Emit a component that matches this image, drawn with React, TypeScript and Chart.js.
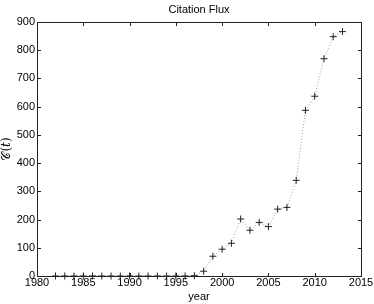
import React, { useEffect, useRef } from "react";
import { Chart, registerables } from "chart.js";

Chart.register(...registerables);

const years = [1982,1983,1984,1985,1986,1987,1988,1989,1990,1991,1992,1993,1994,1995,1996,1997,1998,1999,2000,2001,2002,2003,2004,2005,2006,2007,2008,2009,2010,2011,2012,2013];
const citations = [0,0,0,0,0,0,0,0,0,0,0,0,0,0,0,1,17,70,95,116,202,162,190,175,237,243,339,587,637,770,848,866];
const xTicks = [1980,1985,1990,1995,2000,2005,2010,2015];
const yTicks = [0,100,200,300,400,500,600,700,800,900];
const titleText = "Citation Flux";
const xLabel = "year";
const yLabel = "𝒞(𝑡)";

const boxPlugin = {
  id: "boxTicks",
  afterDatasetsDraw(chart: any) {
    const { ctx, chartArea, scales } = chart;
    const { left, right, top, bottom } = chartArea;
    ctx.save();
    ctx.strokeStyle = "#222";
    ctx.lineWidth = 1;
    ctx.beginPath();
    const L = Math.round(left) + 0.5, R = Math.round(right) + 0.5, T = Math.round(top) + 0.5, B = Math.round(bottom) + 0.5;
    ctx.rect(L, T, R - L, B - T);
    const tl = 3.5;
    xTicks.forEach((v) => {
      const x = Math.round(scales.x.getPixelForValue(v)) + 0.5;
      ctx.moveTo(x, B); ctx.lineTo(x, B - tl);
      ctx.moveTo(x, T); ctx.lineTo(x, T + tl);
    });
    yTicks.forEach((v) => {
      const y = Math.round(scales.y.getPixelForValue(v)) + 0.5;
      ctx.moveTo(L, y); ctx.lineTo(L + tl, y);
      ctx.moveTo(R, y); ctx.lineTo(R - tl, y);
    });
    ctx.stroke();
    ctx.fillStyle = "#000";
    ctx.font = "11px 'Liberation Sans', Arial, sans-serif";
    ctx.textAlign = "center";
    ctx.textBaseline = "middle";
    ctx.fillText(titleText, (left + right) / 2, 10);
    ctx.restore();
  },
};

export default function App() {
  const ref = useRef<HTMLCanvasElement | null>(null);
  useEffect(() => {
    if (!ref.current) return;
    Chart.defaults.font.family = "'Liberation Sans', Arial, Helvetica, sans-serif";
    Chart.defaults.color = "#000";
    const chart = new Chart(ref.current, {
      type: "scatter",
      data: {
        datasets: [
          {
            data: years.map((y, i) => ({ x: y, y: citations[i] })),
            showLine: true,
            borderColor: "#999",
            borderWidth: 1,
            borderDash: [1, 2],
            pointStyle: "cross",
            pointRadius: 3.5,
            pointBorderColor: "#222",
            pointBorderWidth: 1,
            pointBackgroundColor: "#222",
            clip: false,
          } as any,
        ],
      },
      options: {
        responsive: false,
        animation: false,
        layout: { padding: { right: 13, left: 0, bottom: 0, top: 22 } },
        plugins: {
          legend: { display: false },
          tooltip: { enabled: false },
          title: { display: false },
        },
        scales: {
          x: {
            type: "linear",
            min: 1980,
            max: 2015,
            afterBuildTicks: (s: any) => { s.ticks = xTicks.map((v) => ({ value: v })); },
            afterFit: (s: any) => { s.height = 28; },
            ticks: { callback: (v: any) => String(v), font: { size: 11 }, padding: 0, maxRotation: 0, autoSkip: false },
            grid: { display: false, drawTicks: false },
            border: { display: false },
            title: { display: true, text: xLabel, font: { size: 11 }, padding: { top: 0, bottom: 0 } },
          },
          y: {
            type: "linear",
            min: 0,
            max: 900,
            afterBuildTicks: (s: any) => { s.ticks = yTicks.map((v) => ({ value: v })); },
            afterFit: (s: any) => { s.width = 37; },
            ticks: { callback: (v: any) => String(v), font: { size: 11 }, padding: 2, autoSkip: false },
            grid: { display: false, drawTicks: false },
            border: { display: false },
            title: { display: true, text: yLabel, font: { size: 12, family: "'DejaVu Serif', serif" }, padding: 0 },
          },
        },
      } as any,
      plugins: [boxPlugin],
    });
    return () => chart.destroy();
  }, []);
  return (
    <div style={{ position: "fixed", left: 0, top: 0, width: 374, height: 304, background: "#fff" }}>
      <canvas ref={ref} width={374} height={304} style={{ display: "block" }} />
    </div>
  );
}
